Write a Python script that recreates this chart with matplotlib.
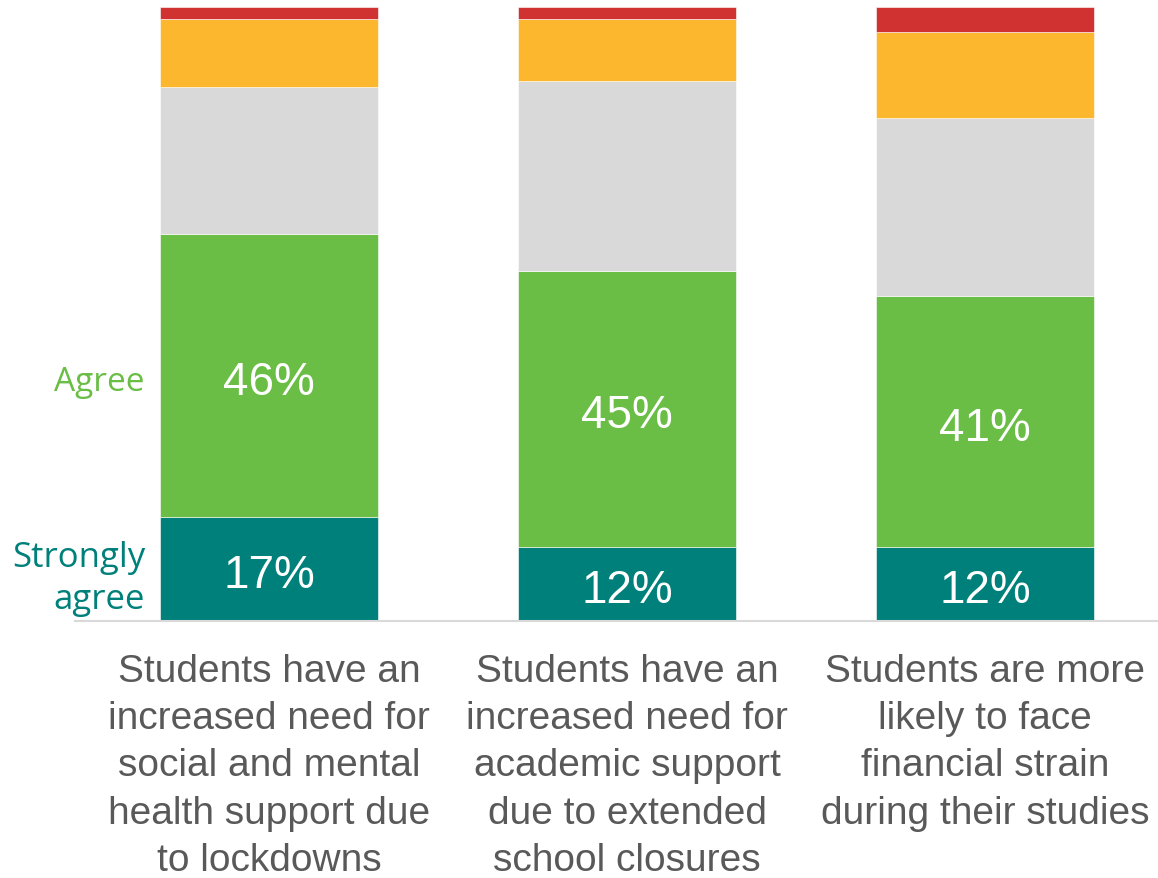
import numpy as np
import matplotlib
matplotlib.use("Agg")
import matplotlib.pyplot as plt
from matplotlib.transforms import offset_copy

# Survey responses, % of respondents
statements = [
    "Students have an\nincreased need for\nsocial and mental\nhealth support due\nto lockdowns",
    "Students have an\nincreased need for\nacademic support\ndue to extended\nschool closures",
    "Students are more\nlikely to face\nfinancial strain\nduring their studies",
]
strongly_agree = [17, 12, 12]
agree = [46, 45, 41]
neutral = [24, 31, 29]
disagree = [11, 10, 14]
strongly_disagree = [2, 2, 4]

series = [strongly_agree, agree, neutral, disagree, strongly_disagree]
colors = ["#00807A", "#6ABD45", "#D9D9D9", "#FDB72F", "#D03232"]

fig = plt.figure(figsize=(11.58, 8.79), dpi=100)
ax = fig.add_axes([75 / 1158, 1 - 622 / 879, 1083 / 1158, 614 / 879])

x = np.arange(len(statements))
bottom = np.zeros(len(statements))
for vals, col in zip(series, colors):
    ax.bar(x, vals, width=0.61, bottom=bottom, color=col,
           edgecolor="white", linewidth=0.4)
    bottom += np.array(vals)

# nudge text down a little so digits sit visually centred
data_tr = offset_copy(ax.transData, fig=fig, x=0, y=-4.5, units="points")

# value labels for the two agree segments
for i in x:
    ax.text(i, strongly_agree[i] / 2, f"{strongly_agree[i]}%", ha="center",
            va="center", color="white", fontsize=33, family="Liberation Sans",
            transform=data_tr)
    ax.text(i, strongly_agree[i] + agree[i] / 2, f"{agree[i]}%", ha="center",
            va="center", color="white", fontsize=33, family="Liberation Sans",
            transform=data_tr)

# side labels
side_tr = offset_copy(ax.get_yaxis_transform(), fig=fig, x=0, y=-4.5, units="points")
ax.text(0.0646, strongly_agree[0] + agree[0] / 2, "Agree", transform=side_tr,
        ha="right", va="center", color="#6ABD45", fontsize=24, family="Open Sans")
ax.text(0.0646, strongly_agree[0] / 2 - 0.5, "Strongly\nagree", transform=side_tr,
        ha="right", va="center", color="#00807A", fontsize=25, family="Open Sans",
        linespacing=1.3)

ax.set_xlim(-0.542, 2.483)
ax.set_ylim(0, sum(s[0] for s in series))
ax.set_xticks(x)
ax.set_xticklabels(statements, fontsize=28, color="#595959",
                   family="Liberation Sans", linespacing=1.4)
ax.tick_params(axis="x", length=0, pad=23)
ax.set_yticks([])
for side in ["left", "right", "top"]:
    ax.spines[side].set_visible(False)
ax.spines["bottom"].set_color("#D9D9D9")
ax.spines["bottom"].set_linewidth(1.5)

fig.savefig("out.png", dpi=100)
